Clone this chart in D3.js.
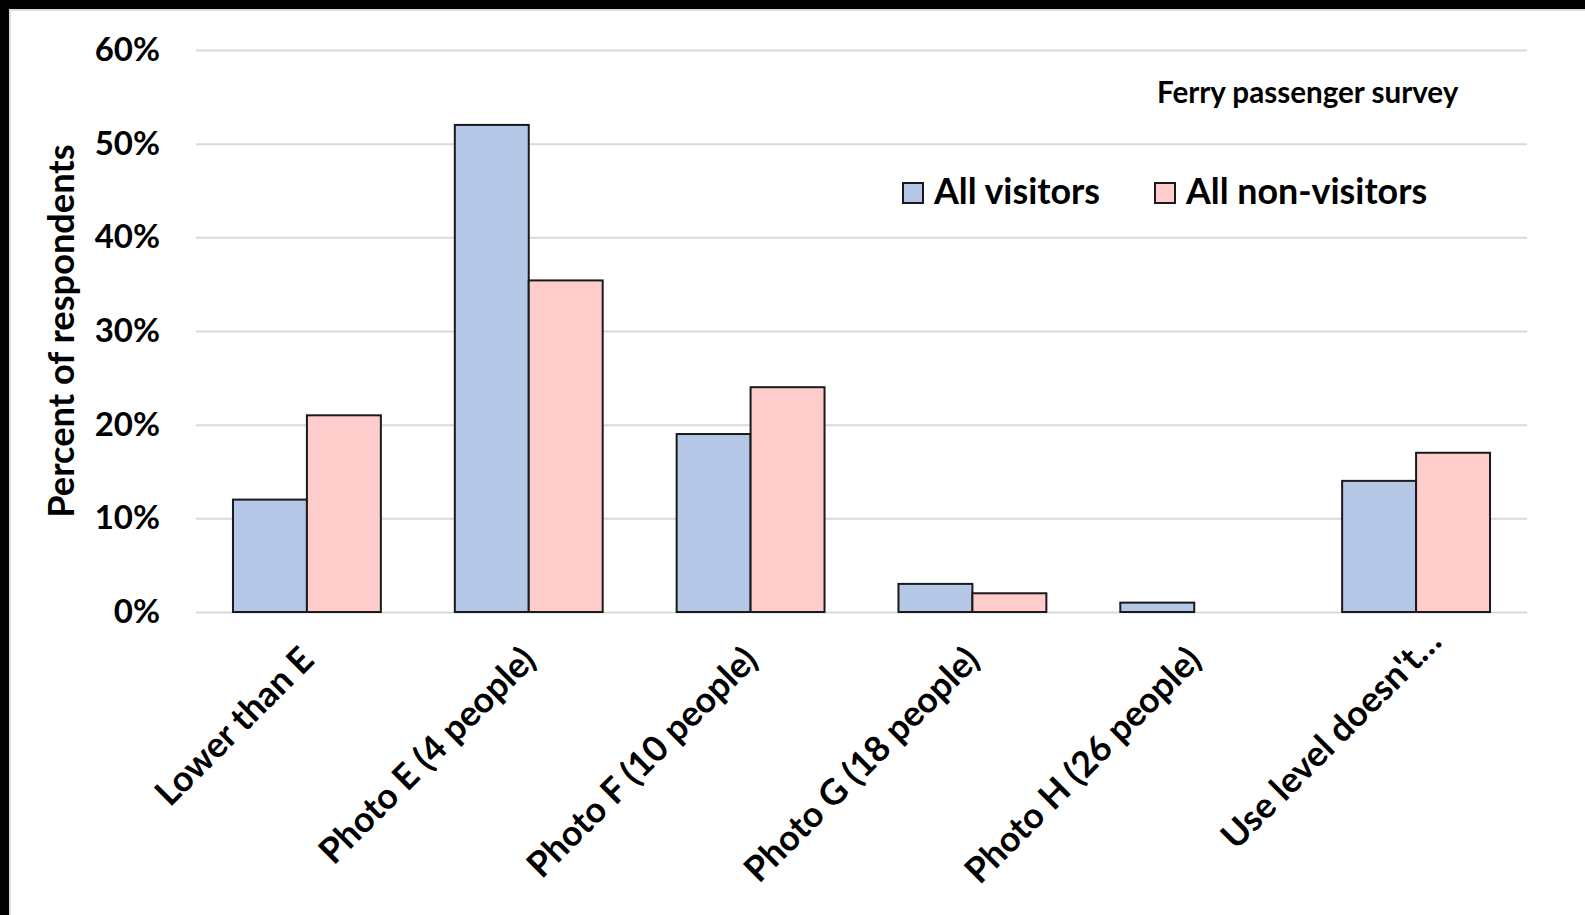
<!DOCTYPE html>
<html>
<head>
<meta charset="utf-8">
<script src="https://cdn.jsdelivr.net/npm/d3@7"></script>
<style>
  html, body { margin: 0; padding: 0; background: #fff; }
  svg { display: block; }
  text { font-family: Lato, "Open Sans", sans-serif; font-weight: bold; fill: #000; }
</style>
</head>
<body>
<svg id="chart" width="1585" height="915"></svg>
<script>
const categories = ["Lower than E", "Photo E (4 people)", "Photo F (10 people)", "Photo G (18 people)", "Photo H (26 people)", "Use level doesn't\u2026"];
const seriesNames = ["All visitors", "All non-visitors"];
const visitors = [0.12, 0.52, 0.19, 0.03, 0.01, 0.14];
const nonVisitors = [0.21, 0.354, 0.24, 0.02, 0.0, 0.17];
const yTicks = [0, 0.1, 0.2, 0.3, 0.4, 0.5, 0.6];
const colors = ["#B4C7E7", "#FFCCCC"];
const chartTitle = "Ferry passenger survey";
const yTitle = "Percent of respondents";

const svg = d3.select("#chart");

// frame
svg.append("rect").attr("x", 0).attr("y", 0).attr("width", 1585).attr("height", 915).attr("fill", "#000");
svg.append("rect").attr("x", 9).attr("y", 9).attr("width", 1576).attr("height", 906).attr("fill", "#dcdcdc");
svg.append("rect").attr("x", 11).attr("y", 11).attr("width", 1574).attr("height", 904).attr("fill", "#fff");

const x = d3.scaleBand().domain(categories).range([196, 1527]).paddingInner(1/3).paddingOuter(1/6);
const xs = d3.scaleBand().domain(seriesNames).range([0, x.bandwidth()]).padding(0);
const y = d3.scaleLinear().domain([0, 0.6]).range([612, 50]);

// gridlines via axis
const yAxis = d3.axisLeft(y).tickValues(yTicks).tickFormat(d3.format(".0%")).tickSize(-(1527 - 196)).tickPadding(36);
const gy = svg.append("g").attr("transform", "translate(196,0)").call(yAxis);
gy.select(".domain").remove();
gy.selectAll(".tick line").attr("stroke", "#d9d9d9").attr("stroke-width", 2);
gy.selectAll(".tick text").attr("font-size", 33).attr("font-family", "Lato").attr("font-weight", "bold").attr("fill", "#000");

// bars
const data = categories.map((c, i) => ({ cat: c, vals: [visitors[i], nonVisitors[i]] }));
const groups = svg.append("g").selectAll("g").data(data).join("g")
  .attr("transform", d => `translate(${x(d.cat)},0)`);
groups.selectAll("rect").data(d => d.vals.map((v, j) => ({ v, s: seriesNames[j], j })).filter(e => e.v > 0))
  .join("rect")
  .attr("x", e => xs(e.s))
  .attr("y", e => y(e.v))
  .attr("width", xs.bandwidth())
  .attr("height", e => y(0) - y(e.v))
  .attr("fill", e => colors[e.j])
  .attr("stroke", "#1a1a1a")
  .attr("stroke-width", 2);

// category labels
const xAxis = d3.axisBottom(x).tickSize(0).tickPadding(0);
const gx = svg.append("g").attr("transform", "translate(0,612)").call(xAxis);
gx.select(".domain").remove();
gx.selectAll(".tick text")
  .attr("font-size", 35.5).attr("font-family", "Lato").attr("font-weight", "bold").attr("fill", "#000")
  .attr("text-anchor", "end")
  .attr("dy", null).attr("y", 0)
  .attr("dx", (d, i) => i === categories.length - 1 ? 26 : 0)
  .attr("transform", "translate(9,50) rotate(-45)");

// y title
svg.append("text")
  .attr("transform", "translate(74,331) rotate(-90)")
  .attr("text-anchor", "middle")
  .attr("font-size", 36.2)
  .text(yTitle);

// chart title
svg.append("text").attr("x", 1157).attr("y", 103).attr("font-size", 29.6).text(chartTitle);

// legend
const legendX = [903, 1155];
const lg = svg.append("g").selectAll("g").data(seriesNames).join("g")
  .attr("transform", (d, i) => `translate(${legendX[i]},0)`);
lg.append("rect").attr("x", 0).attr("y", 183).attr("width", 20).attr("height", 20)
  .attr("fill", (d, i) => colors[i]).attr("stroke", "#1a1a1a").attr("stroke-width", 2);
lg.append("text").attr("x", 31).attr("y", 204).attr("font-size", 35.8).text(d => d);
</script>
</body>
</html>
